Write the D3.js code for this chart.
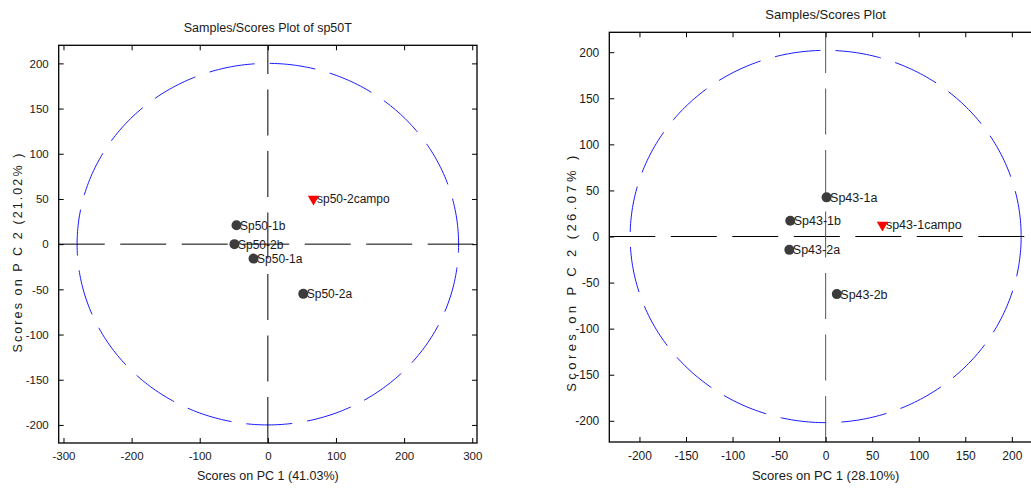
<!DOCTYPE html>
<html>
<head>
<meta charset="utf-8">
<script src="https://cdn.jsdelivr.net/npm/d3@7"></script>
<style>
  html, body { margin: 0; padding: 0; background: #fff; }
  svg { display: block; font-family: "Liberation Sans", Arial, sans-serif; }
</style>
</head>
<body>
<svg id="chart" width="1031" height="489"></svg>
<script>
// ---------- DATA ----------
const leftTitle = "Samples/Scores Plot of sp50T";
const leftXLabel = "Scores on PC 1 (41.03%)";
const leftYLabel = "Scores on P C 2 (21.02% )";
const leftNames = ["Sp50-1b", "Sp50-2b", "Sp50-1a", "Sp50-2a", "sp50-2campo"];
const leftPC1 = [-46, -49, -21, 52, 67];
const leftPC2 = [21, 0, -16, -55, 50];
const leftKind = ["sample", "sample", "sample", "sample", "field"];
const leftXTicks = [-300, -200, -100, 0, 100, 200, 300];
const leftYTicks = [-200, -150, -100, -50, 0, 50, 100, 150, 200];
const leftXLimits = [-307, 307];
const leftYLimits = [-220, 220];
const leftEllipse = [280, 200];

const rightTitle = "Samples/Scores Plot";
const rightXLabel = "Scores on PC 1 (28.10%)";
const rightYLabel = "Scores on P C 2 (26.07% )";
const rightNames = ["Sp43-1a", "Sp43-1b", "Sp43-2a", "Sp43-2b", "sp43-1campo"];
const rightPC1 = [1, -38, -39, 12, 61];
const rightPC2 = [42.5, 17, -14.5, -62.5, 12.5];
const rightKind = ["sample", "sample", "sample", "sample", "field"];
const rightXTicks = [-200, -150, -100, -50, 0, 50, 100, 150, 200];
const rightYTicks = [-200, -150, -100, -50, 0, 50, 100, 150, 200];
const rightXLimits = [-232.4, 232.4];
const rightYLimits = [-223, 221.6];
const rightEllipse = [210, 202];

// ---------- LAYOUT ----------
const svg = d3.select("#chart");
const fmt = d => String(d);

function drawPanel(o) {
  const x = d3.scaleLinear().domain(o.xLim).range([o.left, o.right]);
  const y = d3.scaleLinear().domain(o.yLim).range([o.bottom, o.top]);
  const g = svg.append("g");
  const clipId = "clip" + o.id;
  svg.append("clipPath").attr("id", clipId)
    .append("rect").attr("x", o.left).attr("y", o.top)
    .attr("width", o.right - o.left).attr("height", o.bottom - o.top);

  const plot = g.append("g").attr("clip-path", `url(#${clipId})`);

  // ellipse (blue dashed)
  const angles = d3.range(0, 361).map(d => d * Math.PI / 180);
  const ell = d3.line()
    .x(t => x(o.ellipse[0] * Math.cos(t)))
    .y(t => y(o.ellipse[1] * Math.sin(t)));
  plot.append("path").attr("d", ell(angles))
    .attr("fill", "none").attr("stroke", "#1a1aff").attr("stroke-width", 1)
    .attr("stroke-dasharray", "46,15");

  // zero lines
  plot.append("line")
    .attr("x1", x(o.xLim[0])).attr("x2", x(o.xLim[1]))
    .attr("y1", y(0)).attr("y2", y(0))
    .attr("stroke", "#000").attr("stroke-width", 1)
    .attr("stroke-dasharray", "46,15.5");
  plot.append("line")
    .attr("x1", x(0)).attr("x2", x(0))
    .attr("y1", y(o.yLim[0])).attr("y2", y(o.yLim[1]))
    .attr("stroke", o.vColor).attr("stroke-width", 1)
    .attr("stroke-dasharray", "46,15.5");

  // points
  const data = o.names.map((n, i) => ({ name: n, px: o.pc1[i], py: o.pc2[i], kind: o.kind[i] }));
  const tri = d3.symbol().type(d3.symbolTriangle).size(56);
  data.forEach(d => {
    const cx = x(d.px), cy = y(d.py);
    if (d.kind === "field") {
      plot.append("path").attr("d", tri())
        .attr("transform", `translate(${cx},${cy}) rotate(180)`)
        .attr("fill", "#ff0000");
    } else {
      plot.append("circle").attr("cx", cx).attr("cy", cy).attr("r", 5)
        .attr("fill", "#3c3c3c");
    }
    plot.append("text").attr("x", cx + 3.5).attr("y", cy + 4.5)
      .attr("font-size", o.labelSize).attr("fill", "#1a1a1a")
      .text(d.name);
  });

  // axes box with inward ticks
  const tickStyle = sel => {
    sel.select(".domain").remove();
    sel.selectAll(".tick line").attr("stroke", "#000");
    sel.selectAll(".tick text").attr("font-family", "Liberation Sans, Arial, sans-serif")
      .attr("font-size", o.tickSize).attr("fill", "#1a1a1a");
  };
  g.append("g").attr("transform", `translate(0,${o.bottom})`)
    .call(d3.axisBottom(x).tickValues(o.xTicks).tickFormat(fmt)
      .tickSizeInner(-5).tickSizeOuter(0).tickPadding(9))
    .call(tickStyle);
  g.append("g").attr("transform", `translate(0,${o.top})`)
    .call(d3.axisTop(x).tickValues(o.xTicks).tickFormat("")
      .tickSizeInner(-5).tickSizeOuter(0))
    .call(tickStyle);
  g.append("g").attr("transform", `translate(${o.left},0)`)
    .call(d3.axisLeft(y).tickValues(o.yTicks).tickFormat(fmt)
      .tickSizeInner(-5).tickSizeOuter(0).tickPadding(10))
    .call(tickStyle);
  g.append("g").attr("transform", `translate(${o.right},0)`)
    .call(d3.axisRight(y).tickValues(o.yTicks).tickFormat("")
      .tickSizeInner(-5).tickSizeOuter(0))
    .call(tickStyle);

  g.append("rect").attr("x", o.left).attr("y", o.top)
    .attr("width", o.right - o.left).attr("height", o.bottom - o.top)
    .attr("fill", "none").attr("stroke", "#000").attr("stroke-width", 1.3);

  // titles and labels
  const cxm = (o.left + o.right) / 2;
  g.append("text").attr("x", cxm).attr("y", o.titleY)
    .attr("text-anchor", "middle").attr("font-size", o.titleSize).attr("fill", "#1a1a1a")
    .text(o.title);
  g.append("text").attr("x", cxm).attr("y", 480)
    .attr("text-anchor", "middle").attr("font-size", o.titleSize).attr("fill", "#1a1a1a")
    .text(o.xLabel);
  g.append("text")
    .attr("transform", `translate(${o.yLabelX},${o.yLabelY}) rotate(-90)`)
    .attr("text-anchor", "middle").attr("font-size", o.titleSize).attr("fill", "#1a1a1a")
    .attr("letter-spacing", o.yLabelSpacing)
    .text(o.yLabel);
}

drawPanel({
  id: "L", left: 58.7, right: 477, top: 45.3, bottom: 443,
  xLim: leftXLimits, yLim: leftYLimits, xTicks: leftXTicks, yTicks: leftYTicks,
  ellipse: leftEllipse, names: leftNames, pc1: leftPC1, pc2: leftPC2, kind: leftKind,
  title: leftTitle, xLabel: leftXLabel, yLabel: leftYLabel,
  titleY: 32, titleSize: 12.5, tickSize: 11.5, labelSize: 12,
  yLabelX: 22, yLabelY: 252, yLabelSpacing: 2.1, vColor: "#000"
});

drawPanel({
  id: "R", left: 609.3, right: 1042, top: 32.3, bottom: 442,
  xLim: rightXLimits, yLim: rightYLimits, xTicks: rightXTicks, yTicks: rightYTicks,
  ellipse: rightEllipse, names: rightNames, pc1: rightPC1, pc2: rightPC2, kind: rightKind,
  title: rightTitle, xLabel: rightXLabel, yLabel: rightYLabel,
  titleY: 18.5, titleSize: 13, tickSize: 12, labelSize: 12.5,
  yLabelX: 576, yLabelY: 272, yLabelSpacing: 3.4, vColor: "#555"
});
</script>
</body>
</html>
